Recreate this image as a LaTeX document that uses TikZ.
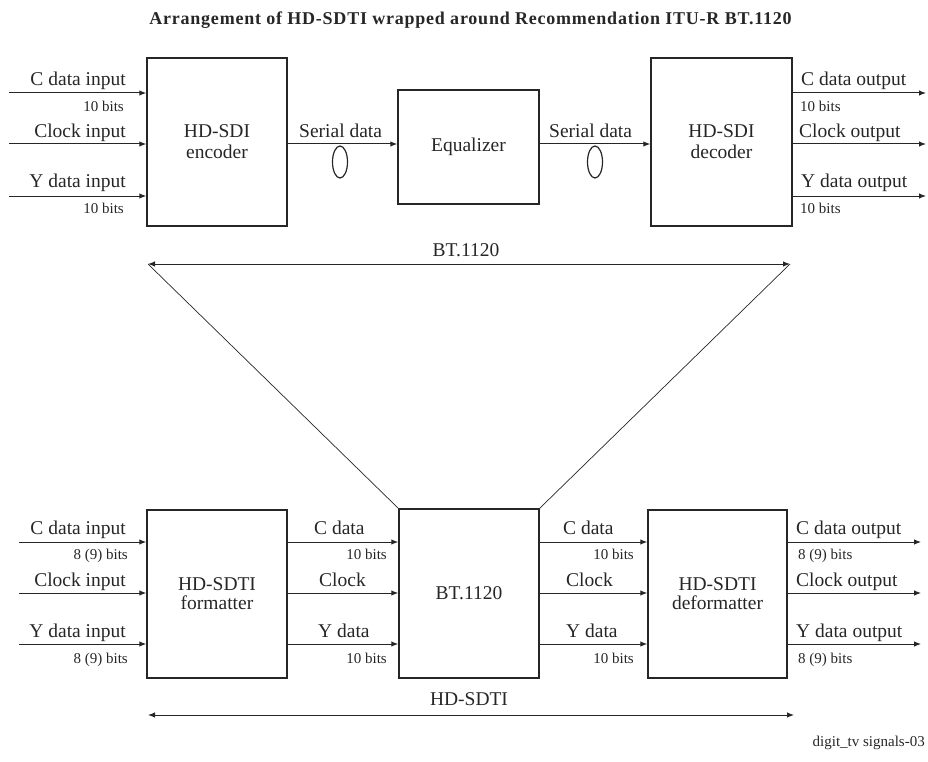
\documentclass[tikz,border=0pt]{standalone}
\usepackage{fontspec}
\setmainfont{Liberation Serif}
\usetikzlibrary{arrows.meta,shapes.geometric}
\definecolor{ink}{gray}{0.15}
\tikzset{
  box/.style={draw=ink, line width=1.5pt, inner sep=0pt, align=center, text=ink, font=\fontsize{19.5}{21}\selectfont},
  lbl/.style={inner sep=0pt, text=ink, font=\fontsize{19.5}{21}\selectfont},
  sm/.style={inner sep=0pt, text=ink, font=\fontsize{15}{17}\selectfont},
  sig/.style={draw=ink, line width=1pt, -{Latex[length=7pt,width=5.5pt]}},
  dim/.style={draw=ink, line width=1pt, {Latex[length=7pt,width=5.5pt]}-{Latex[length=7pt,width=5.5pt]}},
  thinline/.style={draw=ink, line width=0.7pt},
  cable/.style={draw=ink, line width=1.2pt, ellipse, minimum width=15pt, minimum height=32pt, inner sep=0pt}
}
\begin{document}
\begin{tikzpicture}[x=1pt,y=-1pt]
\useasboundingbox (0,0) rectangle (928,762);

% title
\node[inner sep=0pt, anchor=base, text=ink, font=\fontsize{18}{20}\selectfont\bfseries\addfontfeature{LetterSpace=4.3}] (title) at (470.5,25) {Arrangement of HD-SDTI wrapped around Recommendation ITU-R BT.1120};

% rows
\coordinate (rT1) at (0,93);
\coordinate (rT2) at (0,144);
\coordinate (rT3) at (0,196);
\coordinate (rB1) at (0,542);
\coordinate (rB2) at (0,593);
\coordinate (rB3) at (0,644);

% boxes
\node[box, minimum width=140pt, minimum height=168pt] (enc) at (217,142) {HD-SDI\\encoder};
\node[box, minimum width=141pt, minimum height=114pt] (eq) at (468.5,147) {Equalizer};
\node[box, minimum width=141pt, minimum height=168pt] (dec) at (721.5,142) {HD-SDI\\decoder};
\node[box, minimum width=140pt, minimum height=168pt, font=\fontsize{19.5}{19}\selectfont] (fmt) at (217,594) {HD-SDTI\\formatter};
\node[box, minimum width=140pt, minimum height=169pt] (bt) at (469,593.5) {BT.1120};
\node[box, minimum width=139pt, minimum height=168pt, font=\fontsize{19.5}{19}\selectfont] (def) at (717.5,594) {HD-SDTI\\deformatter};

% top inputs
\coordinate (ti1) at (9,93);
\coordinate (ti2) at (9,144);
\coordinate (ti3) at (9,196);
\draw[sig] (ti1) -- (enc.west |- rT1);
\draw[sig] (ti2) -- (enc.west |- rT2);
\draw[sig] (ti3) -- (enc.west |- rT3);
\node[lbl, anchor=base east] (l1) at (126,86) {C data input};
\node[sm, anchor=base east] (l2) at (124,112) {10 bits};
\node[lbl, anchor=base east] (l3) at (126,138) {Clock input};
\node[lbl, anchor=base east] (l4) at (126,188) {Y data input};
\node[sm, anchor=base east] (l5) at (124,213) {10 bits};

% serial links
\draw[sig] (enc.east |- rT2) -- (eq.west |- rT2);
\draw[sig] (eq.east |- rT2) -- (dec.west |- rT2);
\node[lbl, anchor=base west] (s1) at (299,138) {Serial data};
\node[lbl, anchor=base west] (s2) at (549,138) {Serial data};
\node[cable] (c1) at (340,162) {};
\node[cable] (c2) at (595,162) {};

% top outputs
\coordinate (to1) at (926,93);
\coordinate (to2) at (926,144);
\coordinate (to3) at (926,196);
\draw[sig] (dec.east |- rT1) -- (to1);
\draw[sig] (dec.east |- rT2) -- (to2);
\draw[sig] (dec.east |- rT3) -- (to3);
\node[lbl, anchor=base west] (o1) at (801,86) {C data output};
\node[sm, anchor=base west] (o2) at (800,112) {10 bits};
\node[lbl, anchor=base west] (o3) at (799,138) {Clock output};
\node[lbl, anchor=base west] (o4) at (801,188) {Y data output};
\node[sm, anchor=base west] (o5) at (800,213) {10 bits};

% BT.1120 span
\coordinate (bl) at (148,264);
\coordinate (br) at (790,264);
\draw[dim] (bl) -- (br);
\node[lbl, anchor=base] (btlab) at (466,256) {BT.1120};
\draw[thinline] (bl) -- (bt.north west);
\draw[thinline] (br) -- (bt.north east);

% bottom inputs
\coordinate (bi1) at (19,542);
\coordinate (bi2) at (19,593);
\coordinate (bi3) at (19,644);
\draw[sig] (bi1) -- (fmt.west |- rB1);
\draw[sig] (bi2) -- (fmt.west |- rB2);
\draw[sig] (bi3) -- (fmt.west |- rB3);
\node[lbl, anchor=base east] (b1) at (126,534) {C data input};
\node[sm, anchor=base east] (b2) at (128,559) {8 (9) bits};
\node[lbl, anchor=base east] (b3) at (126,586) {Clock input};
\node[lbl, anchor=base east] (b4) at (126,637) {Y data input};
\node[sm, anchor=base east] (b5) at (128,663) {8 (9) bits};

% formatter -> BT.1120
\draw[sig] (fmt.east |- rB1) -- (bt.west |- rB1);
\draw[sig] (fmt.east |- rB2) -- (bt.west |- rB2);
\draw[sig] (fmt.east |- rB3) -- (bt.west |- rB3);
\node[lbl, anchor=base west] (m1) at (314,534) {C data};
\node[sm, anchor=base east] (m2) at (387,559) {10 bits};
\node[lbl, anchor=base west] (m3) at (319,586) {Clock};
\node[lbl, anchor=base west] (m4) at (318,637) {Y data};
\node[sm, anchor=base east] (m5) at (387,663) {10 bits};

% BT.1120 -> deformatter
\draw[sig] (bt.east |- rB1) -- (def.west |- rB1);
\draw[sig] (bt.east |- rB2) -- (def.west |- rB2);
\draw[sig] (bt.east |- rB3) -- (def.west |- rB3);
\node[lbl, anchor=base west] (n1) at (563,534) {C data};
\node[sm, anchor=base east] (n2) at (634,559) {10 bits};
\node[lbl, anchor=base west] (n3) at (566,586) {Clock};
\node[lbl, anchor=base west] (n4) at (566,637) {Y data};
\node[sm, anchor=base east] (n5) at (634,663) {10 bits};

% bottom outputs
\coordinate (bo1) at (921,542);
\coordinate (bo2) at (921,593);
\coordinate (bo3) at (921,644);
\draw[sig] (def.east |- rB1) -- (bo1);
\draw[sig] (def.east |- rB2) -- (bo2);
\draw[sig] (def.east |- rB3) -- (bo3);
\node[lbl, anchor=base west] (p1) at (796,534) {C data output};
\node[sm, anchor=base west] (p2) at (798,559) {8 (9) bits};
\node[lbl, anchor=base west] (p3) at (796,586) {Clock output};
\node[lbl, anchor=base west] (p4) at (796,637) {Y data output};
\node[sm, anchor=base west] (p5) at (798,663) {8 (9) bits};

% HD-SDTI span
\coordinate (hl) at (148,715);
\coordinate (hr) at (794,715);
\draw[dim] (hl) -- (hr);
\node[lbl, anchor=base] (hdlab) at (469,705) {HD-SDTI};

% footer
\node[sm, anchor=base east] (foot) at (925,746) {digit\_tv signals-03};
\end{tikzpicture}
\end{document}
